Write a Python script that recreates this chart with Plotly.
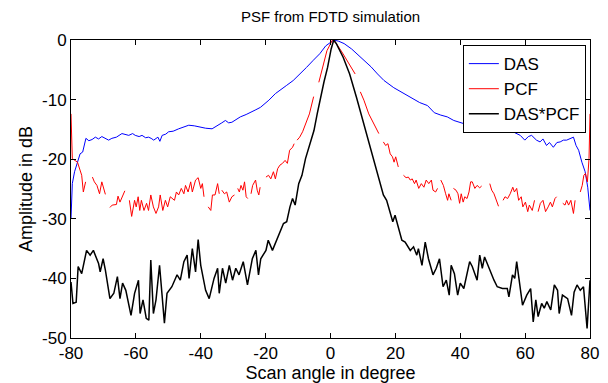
import plotly.graph_objects as go

# ---- DAS (blue) ----
das_x = [-80, -79.6, -78.9, -77.9, -77.2, -76.4, -75.8, -75.4, -74.5, -73.5, -72.5, -71.5, -70.5, -69.4,
         -68.4, -67.4, -66, -64.3, -63.2, -62.2, -61, -60.2, -59, -58.1, -57, -56.1, -55.3, -54.5, -53.2,
         -52.6, -51.9, -50.8, -49.9, -48.5, -46.8, -45.5, -43.7, -42, -40.6, -38.5, -36.5, -35.5, -34.5,
         -33.5, -32.4, -31.4, -30.4, -29, -27.8, -26, -24.7, -23, -21.6, -19, -17, -15.6, -13.5, -11.5,
         -9.5, -7.4, -5.3, -3.3, -1.5, 1, 2.5, 4.2, 6.5, 8.5, 10.3, 12.5, 14.5, 16.5, 19.5, 22.7, 25.9,
         27.5, 29.9, 32, 34, 36, 38, 40, 41.5, 43.9, 45.5, 47, 48.6, 50, 51.1, 52.5, 54.2, 55.5, 57.3,
         58.5, 59.9, 61, 62, 63.5, 64.6, 65.5, 66.6, 67.5, 68.7, 69.8, 70.8, 71.8, 72.8, 73.8, 74.9,
         75.7, 76.5, 77.5, 78.5, 79.3, 80]
das_y = [-30, -24.1, -22.1, -20.5, -19.1, -18.8, -17.1, -16.5, -16.9, -16.7, -16.3, -16.6, -16.2, -16.5,
         -16.8, -16.5, -16.3, -15.7, -15.9, -16, -15.7, -16, -16.2, -16, -16.4, -16.3, -16.5, -16.8, -16.3,
         -17, -16, -15.8, -15.4, -15.3, -14.9, -14.7, -14.3, -14.4, -14.6, -14.8, -14.9, -14.6, -14.3,
         -13.9, -13.5, -13.9, -13.8, -13.3, -12.9, -12.5, -12.1, -11.7, -11.3, -10.1, -9.0, -8.5, -7.6, -6.8,
         -5.8, -4.6, -3.4, -2.3, -1.0, 0, -0.2, -0.6, -1.5, -2.5, -3.4, -4.5, -5.7, -6.8, -8, -9, -10.1,
         -10.5, -11, -12.2, -12.6, -12.9, -13.5, -13.8, -14.1, -14.3, -14.4, -14.5, -14.2, -14.8, -15.2,
         -15.0, -15.4, -15.2, -15.7, -16.0, -16.8, -16.2, -16, -16.8, -17.1, -16.6, -17.7, -17.2, -18,
         -17.2, -17.1, -16.8, -16.8, -16.5, -16.3, -17.7, -18.5, -20.5, -22.1, -24.7, -28.6]

# ---- PCF (red, with gaps) ----
pcf_x = [-80, -79.6, -78, -77.2, -76.7, -76.2, -75.5, None,
         -73.4, -72.8, -72, -71.2, -70.5, -70, -69.4, None,
         -68, -67.3, -66, -65.5, -64.9, -64.1, -63.4, None,
         -62, -61.3, -60.4, -59.9, -59.3, -58.8, -58.3, -57.5, -56.7, -56.1, -55.4, -54.6, -53.8, -53,
         -52.5, -51.7, -50.9, -50.2, -49.4, -48.1, -47.5, -46.8, -46, -45.2, -44.7, -43.9, -43.1, -42.6,
         -41.6, -40.8, -40, -39.5, -39, None,
         -37.7, -36.9, -36.4, -35.6, -34.8, -34.3, None,
         -33.5, -32.7, -32, -31.2, -30.4, -29.6, None,
         -28.6, -28.1, -27.6, -27, -26.5, -26, -25.5, None,
         -24.5, -24, -23.1, -22.6, -22.1, -21.7, None,
         -19.9, -19.1, -18.4, -17.6, -17, -16.3, -15.6, -14.8, -14, -13.3, -12.6, -11.7, -11.2, None,
         -10.3, -9.5, -8.6, -7.6, -6.5, -5.2, None,
         -3.6, -2.4, -1.1, 0.6, 1.8, 3.5, 5, 7.6, None,
         9.2, 10.3, 11.8, 13.4, 14.9, None,
         16.3, 17, 17.7, 18.4, 19.1, 19.6, 20.1, 20.9, None,
         22.5, 23.3, 24, 24.6, 25.2, 25.9, 26.4, 27.2, 28, 28.8, 29.5, 30.3, 31.1, 31.6, 32.4, 33, None,
         34, 34.8, 35.5, 36.1, 36.5, 37.2, None,
         37.9, 38.7, 39.3, 39.8, 40.3, 40.9, 41.4, 42.1, 42.7, 43.2, 43.7, 44.5, 45.2, 46, 46.6, None,
         49.1, 49.7, 50.4, 51.2, 51.8, None,
         53.2, 53.8, 54.6, 55.4, 56.2, 56.7, 57.4, 58, 58.8, 59.3, 60.1, 60.8, 61.3, 62.2, 62.9, None,
         64, 64.7, 65.5, 66.3, 67.1, 67.8, 68.4, 69.2, 69.7, None,
         71.6, 72.3, 72.8, 73.4, 74.1, 74.9, 75.4, None,
         77, 77.6, 78.1, 78.6, 79.2, 79.7, 80]
pcf_y = [-12.4, -19.9, -20.5, -21.9, -22.7, -25.5, -23.8, None,
         -23, -23.8, -24.4, -25.8, -23.8, -24.7, -25.9, None,
         -28.1, -27.7, -27.6, -26.2, -27.2, -26, -25.3, None,
         -26.9, -29.6, -26.9, -28, -26.3, -28.6, -26.9, -28.6, -27.4, -28.6, -26, -28, -29.1, -28,
         -26, -28.6, -26.9, -28, -26.3, -26.9, -25.5, -26, -24.9, -25.8, -24.4, -25.5, -23.8, -25.5,
         -23.5, -23.1, -24.9, -24.1, -26.3, None,
         -28, -28.6, -26, -26, -24.1, -25.8, None,
         -25.2, -25.8, -25.5, -27.2, -26.3, -26, None,
         -24.9, -25.5, -24.4, -25.2, -23.8, -26.3, -26.6, None,
         -25.8, -24.4, -23.5, -25.2, -26, -24.7, None,
         -23, -22.7, -23.3, -22.1, -23.3, -21.6, -21, -20.7, -20.2, -20.7, -18.5, -18, -17.4, None,
         -16.8, -16.3, -15.4, -13.8, -12.4, -9.5, None,
         -7.1, -4.6, -1.8, 0, -0.6, -2.0, -3.4, -5.7, None,
         -8.7, -10.1, -12.4, -14, -15.7, None,
         -17.1, -17.7, -17.4, -19.1, -19.6, -20.5, -19.6, -21.3, None,
         -22.7, -23.1, -23, -23.5, -23.3, -24.1, -23.5, -24.9, -24.1, -24.7, -23.5, -24.1, -23.5, -25.2, -25.5, -24.9, None,
         -23.5, -24.4, -25.8, -26.9, -25.8, -26.9, None,
         -24.9, -25.2, -25.8, -27.4, -25.8, -27.2, -26.3, -26.6, -25.5, -23.8, -23.8, -24.9, -24.4, -24.8, -24.5, None,
         -24.1, -25.2, -25.8, -26.9, -27.9, None,
         -26.9, -26.3, -26.6, -25.8, -24.7, -25.5, -24.9, -26.9, -26.3, -28, -27.2, -28.8, -27.7, -28.6, -26.9, None,
         -28.8, -27.4, -26.9, -28.8, -28, -27.2, -28, -26.6, -26.3, None,
         -27.4, -27.7, -26.9, -27.7, -26.9, -29.1, -26.9, None,
         -25.5, -24.4, -22.7, -22.4, -23.8, -19.9, -12.4]

# ---- DAS*PCF (black) ----
dp_x = [-80, -79.4, -78.4, -77.8, -76.7, -75.2, -74.1, -73.1, -71.5, -71, -70.1, -69.4, -68, -66.8, -65.7,
        -64.9, -64.1, -63.1, -61.5, -60.4, -59.2, -58.7, -57.8, -56.8, -56, -55.4, -54.6, -53.8, -52.7,
        -51.2, -50.4, -48.9, -47.3, -46.3, -45.2, -44.2, -43.6, -42.6, -41.6, -40.8, -40, -38.5, -37.4,
        -35.9, -34.8, -34.3, -33.3, -32.3, -31.2, -30.2, -29.2, -28.2, -26.9, -25.6, -24.1, -23, -22.2,
        -21.5, -19.9, -19.2, -17.9, -16.6, -15.3, -14.5, -13.5, -12.5, -11.7, -10.9, -9.8, -8.8, -7.7,
        -6.7, -5.1, -4.1, -3.3, -2.0, -0.9, 0.2, 1, 1.8, 3.9, 5.9, 8, 10, 12.1, 14.2, 15.2, 16.3, 17.3,
        18.3, 19.2, 19.9, 20.9, 22, 23, 24.6, 25.6, 26.6, 27.1, 28.2, 29.2, 30.2, 31.6, 32.6, 33.6, 34.7,
        35.7, 36.6, 37.2, 38.2, 39.2, 40, 41.1, 42.1, 42.9, 43.7, 45.2, 46, 46.8, 47.5, 48.8, 50.4, 51.4,
        53, 54.5, 55, 56.1, 56.8, 57.4, 58.1, 59.2, 60.5, 61.7, 62.5, 63.3, 64, 65.1, 65.9, 66.7, 67.9,
        69, 70, 70.5, 71.5, 73.1, 74.3, 75.1, 76, 77, 78, 79.1, 80]
dp_y = [-40.6, -44.2, -44, -38, -39.2, -35.3, -36.1, -35.3, -37.5, -38.9, -36.7, -38.6, -43.4, -42.5, -39.7,
        -43.4, -40.8, -42, -46.2, -42.5, -40.3, -45.9, -43.6, -46.7, -47, -36.9, -45.9, -43.6, -37.8,
        -47.5, -42.5, -41.4, -39.4, -40.3, -37.2, -36.1, -40, -35, -38.9, -33.5, -37.8, -42, -43.4,
        -40, -38.3, -42.5, -38.3, -40.8, -37.8, -40.3, -38.3, -39.4, -37.2, -41.1, -36.7, -35.3, -39.4,
        -36.7, -35.3, -33.6, -35.3, -33.6, -31.6, -30.8, -30.5, -28, -26.6, -27.7, -24.1, -22.7, -19.9,
        -18, -15.2, -12.4, -10.1, -7.0, -4.6, -1.5, 0, -0.6, -2.9, -5.7, -9.6, -13.5, -18, -21.9, -24.1, -26, -26.9,
        -28.8, -30.5, -29.4, -31.6, -33.6, -33.9, -35.3, -34.7, -36.1, -35, -37.8, -33.9, -36.7, -39.4, -38.3, -36.7, -41.4,
        -40.3, -42.8, -37.8, -39.2, -42.8, -40.8, -41.7, -39.2, -37.2, -38, -40.3, -36.1, -38.3, -36.4, -38.3, -40.3, -41.4,
        -41.7, -41.7, -43.1, -39.4, -40, -37.2, -40.3, -44.5, -42.8, -41.7, -47.3, -43.6, -46.4, -44.2, -45, -43.9, -45.3,
        -41.1, -42, -45.9, -42.8, -43.4, -46.2, -42.3, -41.1, -42, -41.4, -48.4, -40.3]

x_ticks = [-80, -60, -40, -20, 0, 20, 40, 60, 80]
y_ticks = [-50, -40, -30, -20, -10, 0]

FONT = "Liberation Sans, Arial, sans-serif"

fig = go.Figure()
fig.add_trace(go.Scatter(x=das_x, y=das_y, mode="lines", name="DAS",
                         line=dict(color="#0000FF", width=1)))
fig.add_trace(go.Scatter(x=pcf_x, y=pcf_y, mode="lines", name="PCF",
                         connectgaps=False, line=dict(color="#FF0000", width=1)))
fig.add_trace(go.Scatter(x=dp_x, y=dp_y, mode="lines", name="DAS*PCF",
                         line=dict(color="#000000", width=1.5)))

axis_common = dict(showline=True, linecolor="black", linewidth=1, mirror="ticks",
                   ticks="inside", ticklen=5, tickcolor="black", showgrid=False, zeroline=False,
                   automargin=False,
                   tickfont=dict(family=FONT, size=17, color="black"))

fig.update_layout(
    width=608, height=383,
    margin=dict(l=71, r=18, t=40, b=45),
    paper_bgcolor="white", plot_bgcolor="white",
    font=dict(family=FONT, size=17, color="black"),
    title=dict(text="PSF from FDTD simulation", xref="paper", x=0.5, xanchor="center",
               yref="container", y=1 - 17 / 383, yanchor="middle",
               font=dict(family=FONT, size=15, color="black")),
    xaxis=dict(range=[-80, 80], tickvals=x_ticks, ticktext=[str(v) for v in x_ticks],
               title=dict(text="Scan angle in degree", standoff=0, font=dict(family=FONT, size=18)),
               **axis_common),
    yaxis=dict(range=[-50, 0], tickvals=y_ticks, ticktext=[str(v) for v in y_ticks],
               title=dict(text="Amplitude in dB", standoff=4, font=dict(family=FONT, size=18)),
               **axis_common),
    legend=dict(x=0.992, y=0.983, xanchor="right", yanchor="top", bgcolor="white",
                bordercolor="black", borderwidth=1,
                font=dict(family=FONT, size=17, color="black")),
    showlegend=True,
)

fig.write_html("out.html")
